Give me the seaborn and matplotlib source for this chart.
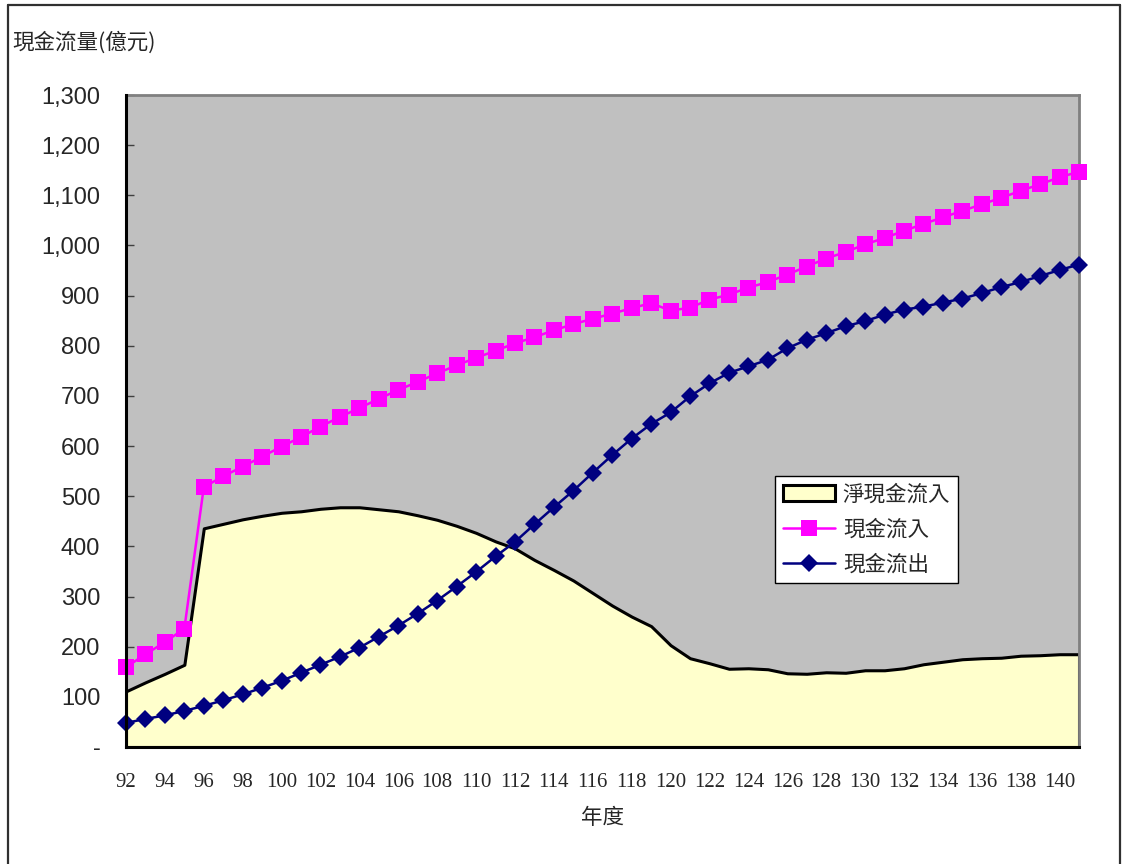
import matplotlib
matplotlib.use("Agg")
import matplotlib.pyplot as plt
from matplotlib.patches import Patch
from matplotlib.lines import Line2D
import seaborn as sns
import pandas as pd

# 年度 (民國)
years = list(range(92, 142))

# 現金流入 (億元)
inflow = [159, 185, 209, 236, 518, 540, 559, 579, 599, 618,
          639, 658, 676, 694, 712, 728, 745, 761, 776, 790,
          805, 817, 831, 843, 854, 864, 875, 885, 870, 876,
          892, 902, 916, 927, 942, 958, 974, 987, 1002, 1015,
          1029, 1043, 1056, 1069, 1082, 1095, 1109, 1122, 1136, 1147]

# 現金流出 (億元)
outflow = [48, 56, 63, 72, 82, 93, 105, 118, 132, 148,
           164, 180, 198, 220, 242, 266, 292, 320, 349, 380,
           409, 444, 478, 511, 547, 582, 615, 644, 667, 699,
           725, 746, 759, 772, 795, 812, 825, 839, 849, 862,
           872, 878, 886, 894, 905, 917, 927, 939, 951, 962]

# 淨現金流入 (億元)
net = [111, 129, 146, 164, 436, 445, 454, 461, 467, 470,
       475, 478, 478, 474, 470, 462, 453, 441, 427, 410,
       396, 373, 353, 332, 307, 282, 260, 241, 203, 177,
       167, 156, 157, 155, 147, 146, 149, 148, 153, 153,
       157, 165, 170, 175, 177, 178, 182, 183, 185, 185]

y_ticks = list(range(0, 1301, 100))
y_labels = ["-"] + [f"{v:,}" for v in y_ticks[1:]]

label_net = "淨現金流入"
label_in = "現金流入"
label_out = "現金流出"

df = pd.DataFrame({"year": years, "inflow": inflow, "outflow": outflow, "net": net})

sns.set_theme(style="white")
plt.rcParams["font.family"] = ["Noto Sans CJK TC", "DejaVu Sans"]

fig = plt.figure(figsize=(11.24, 8.64), dpi=100)
ax = fig.add_axes([126 / 1124, 1 - 747 / 864, (1079 - 126) / 1124, (747 - 95) / 864])
ax.set_facecolor("#C0C0C0")

# net cash inflow area
ax.fill_between(df["year"], 0, df["net"], facecolor="#FFFFCC",
                edgecolor="black", linewidth=2.2, zorder=2)

sns.lineplot(data=df, x="year", y="inflow", ax=ax, color="#FF00FF",
             linewidth=1.8, marker="s", markersize=11.5, markeredgewidth=0,
             zorder=4, clip_on=False)
sns.lineplot(data=df, x="year", y="outflow", ax=ax, color="#000080",
             linewidth=1.8, marker="D", markersize=9.5, markeredgewidth=0,
             zorder=5, clip_on=False)

ax.set_xlim(years[0], years[-1])
ax.set_ylim(0, 1300)

ax.set_xticks(years)
ax.set_xticklabels([str(y) if y % 2 == 0 else "" for y in years],
                   family="Liberation Serif", fontsize=15)
ax.set_yticks(y_ticks)
ax.set_yticklabels(y_labels, family="Liberation Sans", fontsize=17)
ax.tick_params(axis="x", direction="in", length=6, width=1, color="#404040", pad=19,
               bottom=True)
ax.tick_params(axis="y", direction="in", length=6, width=1, color="#404040", pad=18.5,
               left=True)

ax.set_xlabel("")
ax.set_ylabel("")

for side in ("left", "bottom"):
    ax.spines[side].set_color("black")
    ax.spines[side].set_linewidth(2.2)
    ax.spines[side].set_zorder(6)
for side in ("top", "right"):
    ax.spines[side].set_color("#808080")
    ax.spines[side].set_linewidth(2)

fig.text(12 / 1124, 1 - 43 / 864, "現金流量(億元)", fontsize=15.5, ha="left", va="center")
fig.text(603 / 1124, 1 - 818 / 864, "年度", fontsize=15.5, ha="center", va="center")

handles = [
    Patch(facecolor="#FFFFCC", edgecolor="black", linewidth=2.2),
    Line2D([], [], color="#FF00FF", linewidth=1.8, marker="s", markersize=11.5,
           markeredgewidth=0),
    Line2D([], [], color="#000080", linewidth=1.8, marker="D", markersize=9.5,
           markeredgewidth=0),
]
leg = ax.legend(handles, [label_net, label_in, label_out],
                loc="upper left", bbox_to_anchor=(0.681, 0.4156),
                fontsize=15.5, frameon=True, fancybox=False, shadow=False,
                framealpha=1, edgecolor="black", handlelength=2.45,
                handleheight=0.75, labelspacing=0.6, borderpad=0.35,
                handletextpad=0.35, borderaxespad=0)
leg.get_frame().set_linewidth(1)
leg.set_zorder(10)

# chart-area border
border_kw = dict(color="#303030", linewidth=1.6, transform=fig.transFigure)
fig.add_artist(Line2D([8 / 1124, 8 / 1124], [0, 1 - 5 / 864], **border_kw))
fig.add_artist(Line2D([8 / 1124, 1120 / 1124], [1 - 5 / 864, 1 - 5 / 864], **border_kw))
fig.add_artist(Line2D([1120 / 1124, 1120 / 1124], [0, 1 - 5 / 864], **border_kw))

fig.savefig("out.png", dpi=100)
